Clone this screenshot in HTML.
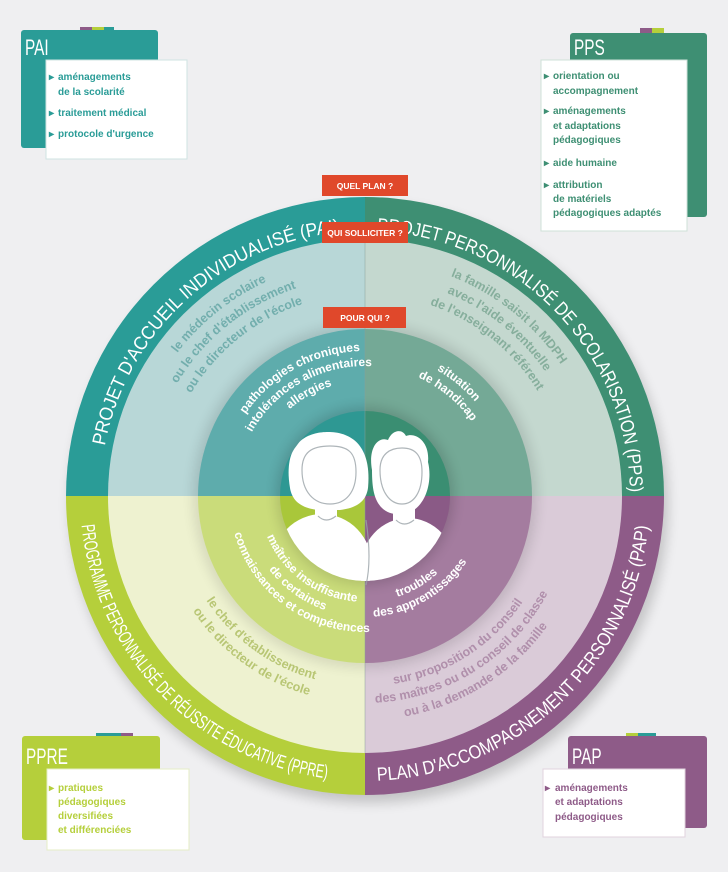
<!DOCTYPE html>
<html><head><meta charset="utf-8"><style>
html,body{margin:0;padding:0;background:#efeff1;}
svg{display:block;}
.bt{font-family:"Liberation Sans",sans-serif;font-weight:bold;font-size:10px;}
.ttl{font-family:"Liberation Sans",sans-serif;font-size:22px;fill:#fff;}
.outer{font-family:"Liberation Sans Narrow","Liberation Sans",sans-serif;font-size:19px;fill:#fff;}
.mid{font-family:"Liberation Sans",sans-serif;font-size:12.5px;font-weight:bold;}
.inn{font-family:"Liberation Sans",sans-serif;font-size:12px;font-weight:bold;fill:#fff;}
.tag{font-family:"Liberation Sans",sans-serif;font-size:8.5px;font-weight:bold;fill:#fff;}
</style></head><body>
<svg width="728" height="872" viewBox="0 0 728 872" xmlns="http://www.w3.org/2000/svg">
<defs>
<clipPath id="qTL"><rect x="0" y="0" width="365" height="496"/></clipPath>
<clipPath id="qTR"><rect x="365" y="0" width="363" height="496"/></clipPath>
<clipPath id="qBL"><rect x="0" y="496" width="365" height="376"/></clipPath>
<clipPath id="qBR"><rect x="365" y="496" width="363" height="376"/></clipPath>
<clipPath id="cc"><circle cx="365" cy="496" r="85"/></clipPath>
<filter id="sh" x="-20%" y="-20%" width="140%" height="140%"><feGaussianBlur stdDeviation="6"/></filter>
<path id="t268" d="M100,496 A265,265 0 0 1 630,496"/>
<path id="t236" d="M129,496 A236,236 0 0 1 601,496"/>
<path id="t219" d="M146,496 A219,219 0 0 1 584,496"/>
<path id="t202" d="M163,496 A202,202 0 0 1 567,496"/>
<path id="t145" d="M220,496 A145,145 0 0 1 510,496"/>
<path id="t130" d="M235,496 A130,130 0 0 1 495,496"/>
<path id="t115" d="M250,496 A115,115 0 0 1 480,496"/>
<path id="b287" d="M80,496 A285,285 0 0 0 650,496"/>
<path id="b190" d="M175,496 A190,190 0 0 0 555,496"/>
<path id="b207" d="M158,496 A207,207 0 0 0 572,496"/>
<path id="b224" d="M141,496 A224,224 0 0 0 589,496"/>
<path id="b106" d="M259,496 A106,106 0 0 0 471,496"/>
<path id="b121" d="M244,496 A121,121 0 0 0 486,496"/>
<path id="b136" d="M229,496 A136,136 0 0 0 501,496"/>
</defs>

<g>
<rect x="80" y="27" width="12" height="6" fill="#8e5b88"/><rect x="92" y="27" width="12" height="6" fill="#b5cf3b"/><rect x="104" y="27" width="10" height="6" fill="#2a9c97"/>
<rect x="21" y="30" width="137" height="118" rx="3" fill="#2a9c97"/>
<text class="ttl" transform="translate(25,55) scale(0.7,1)">PAI</text>
<rect x="46" y="60" width="141" height="99" fill="#fff" stroke="#cfe3e2"/>
<g class="bt" fill="#2a9c97">
<text x="49" y="80">▸</text><text x="58" y="80">aménagements</text><text x="58" y="95">de la scolarité</text>
<text x="49" y="116">▸</text><text x="58" y="116">traitement médical</text>
<text x="49" y="137">▸</text><text x="58" y="137">protocole d'urgence</text>
</g>
</g>
<g>
<rect x="640" y="28" width="12" height="6" fill="#8e5b88"/><rect x="652" y="28" width="12" height="6" fill="#b5cf3b"/>
<rect x="570" y="33" width="137" height="184" rx="3" fill="#3e8f73"/>
<text class="ttl" transform="translate(574,55) scale(0.7,1)">PPS</text>
<rect x="541" y="60" width="146" height="171" fill="#fff" stroke="#cfe0d8"/>
<g class="bt" fill="#3e8f73">
<text x="544" y="79">▸</text><text x="553" y="79">orientation ou</text><text x="553" y="94">accompagnement</text>
<text x="544" y="114">▸</text><text x="553" y="114">aménagements</text><text x="553" y="129">et adaptations</text><text x="553" y="143">pédagogiques</text>
<text x="544" y="166">▸</text><text x="553" y="166">aide humaine</text>
<text x="544" y="188">▸</text><text x="553" y="188">attribution</text><text x="553" y="202">de matériels</text><text x="553" y="216">pédagogiques adaptés</text>
</g>
</g>
<g>
<rect x="96" y="733" width="25" height="6" fill="#2a9c97"/><rect x="121" y="733" width="12" height="6" fill="#8e5b88"/>
<rect x="22" y="736" width="138" height="104" rx="3" fill="#b5cf3b"/>
<text class="ttl" transform="translate(26,764) scale(0.7,1)">PPRE</text>
<rect x="47" y="769" width="142" height="81" fill="#fff" stroke="#e4ecc6"/>
<g class="bt" fill="#b5cf3b">
<text x="49" y="791">▸</text><text x="58" y="791">pratiques</text><text x="58" y="805">pédagogiques</text><text x="58" y="819">diversifiées</text><text x="58" y="833">et différenciées</text>
</g>
</g>
<g>
<rect x="626" y="733" width="12" height="6" fill="#b5cf3b"/><rect x="638" y="733" width="18" height="6" fill="#2a9c97"/>
<rect x="568" y="736" width="139" height="92" rx="3" fill="#8e5b88"/>
<text class="ttl" transform="translate(572,764) scale(0.7,1)">PAP</text>
<rect x="543" y="769" width="142" height="68" fill="#fff" stroke="#e0d3de"/>
<g class="bt" fill="#8e5b88">
<text x="545" y="791">▸</text><text x="555" y="791">aménagements</text><text x="555" y="805">et adaptations</text><text x="555" y="820">pédagogiques</text>
</g>
</g>

<circle cx="369" cy="504" r="299" fill="#000" opacity="0.18" filter="url(#sh)"/>

<g clip-path="url(#qTL)">
<circle cx="365" cy="496" r="299" fill="#2a9c97"/><circle cx="365" cy="496" r="257" fill="#b8d7d7"/>
<circle cx="365" cy="496" r="172" fill="#000" opacity="0.12" filter="url(#sh)"/>
<circle cx="365" cy="496" r="167" fill="#5eacac"/><circle cx="365" cy="496" r="89" fill="#000" opacity="0.15" filter="url(#sh)"/><circle cx="365" cy="496" r="85" fill="#2e9893"/>
</g>
<g clip-path="url(#qTR)">
<circle cx="365" cy="496" r="299" fill="#3e8f73"/><circle cx="365" cy="496" r="257" fill="#c4d8cf"/>
<circle cx="365" cy="496" r="172" fill="#000" opacity="0.12" filter="url(#sh)"/>
<circle cx="365" cy="496" r="167" fill="#74a996"/><circle cx="365" cy="496" r="89" fill="#000" opacity="0.15" filter="url(#sh)"/><circle cx="365" cy="496" r="85" fill="#3a8e72"/>
</g>
<g clip-path="url(#qBL)">
<circle cx="365" cy="496" r="299" fill="#b5cf3b"/><circle cx="365" cy="496" r="257" fill="#eef2d0"/>
<circle cx="365" cy="496" r="172" fill="#000" opacity="0.1" filter="url(#sh)"/>
<circle cx="365" cy="496" r="167" fill="#cadc7a"/><circle cx="365" cy="496" r="89" fill="#000" opacity="0.12" filter="url(#sh)"/><circle cx="365" cy="496" r="85" fill="#a9c73a"/>
</g>
<g clip-path="url(#qBR)">
<circle cx="365" cy="496" r="299" fill="#8e5b88"/><circle cx="365" cy="496" r="257" fill="#dacbd8"/>
<circle cx="365" cy="496" r="172" fill="#000" opacity="0.12" filter="url(#sh)"/>
<circle cx="365" cy="496" r="167" fill="#a47c9f"/><circle cx="365" cy="496" r="89" fill="#000" opacity="0.15" filter="url(#sh)"/><circle cx="365" cy="496" r="85" fill="#8a5a86"/>
</g>
<line x1="365" y1="239" x2="365" y2="753" stroke="#8aa09a" stroke-width="0.8" opacity="0.6"/>

<g clip-path="url(#cc)" fill="#fff">
<ellipse cx="322" cy="566" rx="50" ry="52"/>
<ellipse cx="408" cy="570" rx="48" ry="52"/>
<path d="M290,488 C282,440 310,432 328,432 C350,432 372,444 368,488 C366,502 356,508 340,510 L318,510 C300,508 292,500 290,488Z"/>
<path d="M372,470 C368,448 378,436 388,440 C392,430 402,428 406,436 C416,432 430,442 428,462 C432,478 428,500 414,510 C404,516 390,516 382,508 C374,500 372,488 372,470Z"/>
<rect x="315" y="500" width="22" height="22"/>
<rect x="393" y="500" width="22" height="24"/>
</g>
<g fill="none" stroke="#9aa3a8" stroke-width="1.2" opacity="0.8">
<path d="M302,470 C302,452 312,446 330,446 C348,446 356,452 356,472 C356,492 346,504 330,504 C314,504 302,492 302,470Z"/>
<path d="M380,470 C380,454 390,448 402,448 C416,448 422,456 422,472 C422,492 414,504 402,504 C390,504 380,492 380,470Z"/>
<path d="M318,516 Q326,524 336,516"/>
<path d="M396,520 Q404,528 414,520"/>
<path d="M366,520 Q372,560 366,585"/>
</g>

<text class="outer"><textPath href="#t268" startOffset="26.5%" text-anchor="middle" textLength="340" lengthAdjust="spacingAndGlyphs">PROJET D'ACCUEIL INDIVIDUALISÉ (PAI)</textPath></text>
<text class="outer"><textPath href="#t268" startOffset="75.5%" text-anchor="middle" textLength="400" lengthAdjust="spacingAndGlyphs">PROJET PERSONNALISÉ DE SCOLARISATION (PPS)</textPath></text>
<text class="outer"><textPath href="#b287" startOffset="24.5%" text-anchor="middle" textLength="380" lengthAdjust="spacingAndGlyphs">PROGRAMME PERSONNALISÉ DE RÉUSSITE ÉDUCATIVE (PPRE)</textPath></text>
<text class="outer"><textPath href="#b287" startOffset="74%" text-anchor="middle" textLength="405" lengthAdjust="spacingAndGlyphs">PLAN D'ACCOMPAGNEMENT PERSONNALISÉ (PAP)</textPath></text>

<g class="mid" fill="#72aead">
<text><textPath href="#t236" startOffset="28.5%" text-anchor="middle">le médecin scolaire</textPath></text>
<text><textPath href="#t219" startOffset="28.5%" text-anchor="middle">ou le chef d'établissement</textPath></text>
<text><textPath href="#t202" startOffset="28.5%" text-anchor="middle">ou le directeur de l'école</textPath></text>
</g>
<g class="mid" fill="#86ae9c">
<text><textPath href="#t236" startOffset="71.5%" text-anchor="middle">la famille saisit la MDPH</textPath></text>
<text><textPath href="#t219" startOffset="71.5%" text-anchor="middle">avec l'aide éventuelle</textPath></text>
<text><textPath href="#t202" startOffset="71.5%" text-anchor="middle">de l'enseignant référent</textPath></text>
</g>
<g class="mid" fill="#b8c674">
<text><textPath href="#b190" startOffset="30%" text-anchor="middle">le chef d'établissement</textPath></text>
<text><textPath href="#b207" startOffset="30%" text-anchor="middle">ou le directeur de l'école</textPath></text>
</g>
<g class="mid" fill="#b08fab">
<text><textPath href="#b190" startOffset="68%" text-anchor="middle">sur proposition du conseil</textPath></text>
<text><textPath href="#b207" startOffset="68%" text-anchor="middle">des maîtres ou du conseil de classe</textPath></text>
<text><textPath href="#b224" startOffset="68%" text-anchor="middle">ou à la demande de la famille</textPath></text>
</g>

<g class="inn">
<text><textPath href="#t145" startOffset="34%" text-anchor="middle">pathologies chroniques</textPath></text>
<text><textPath href="#t130" startOffset="34%" text-anchor="middle">intolérances alimentaires</textPath></text>
<text><textPath href="#t115" startOffset="34%" text-anchor="middle">allergies</textPath></text>
<text><textPath href="#t145" startOffset="72%" text-anchor="middle">situation</textPath></text>
<text><textPath href="#t130" startOffset="72%" text-anchor="middle">de handicap</textPath></text>
<text><textPath href="#b106" startOffset="30%" text-anchor="middle">maîtrise insuffisante</textPath></text>
<text><textPath href="#b121" startOffset="30%" text-anchor="middle">de certaines</textPath></text>
<text><textPath href="#b136" startOffset="30%" text-anchor="middle">connaissances et compétences</textPath></text>
<text><textPath href="#b106" startOffset="67%" text-anchor="middle">troubles</textPath></text>
<text><textPath href="#b121" startOffset="67%" text-anchor="middle">des apprentissages</textPath></text>
</g>

<rect x="322" y="175" width="86" height="21" fill="#e0482b"/>
<text x="365" y="189" class="tag" text-anchor="middle">QUEL PLAN ?</text>
<rect x="322" y="222" width="86" height="21" fill="#e0482b"/>
<text x="365" y="236" class="tag" text-anchor="middle">QUI SOLLICITER ?</text>
<rect x="323" y="307" width="83" height="21" fill="#e0482b"/>
<text x="365" y="321" class="tag" text-anchor="middle">POUR QUI ?</text>
</svg>
</body></html>
